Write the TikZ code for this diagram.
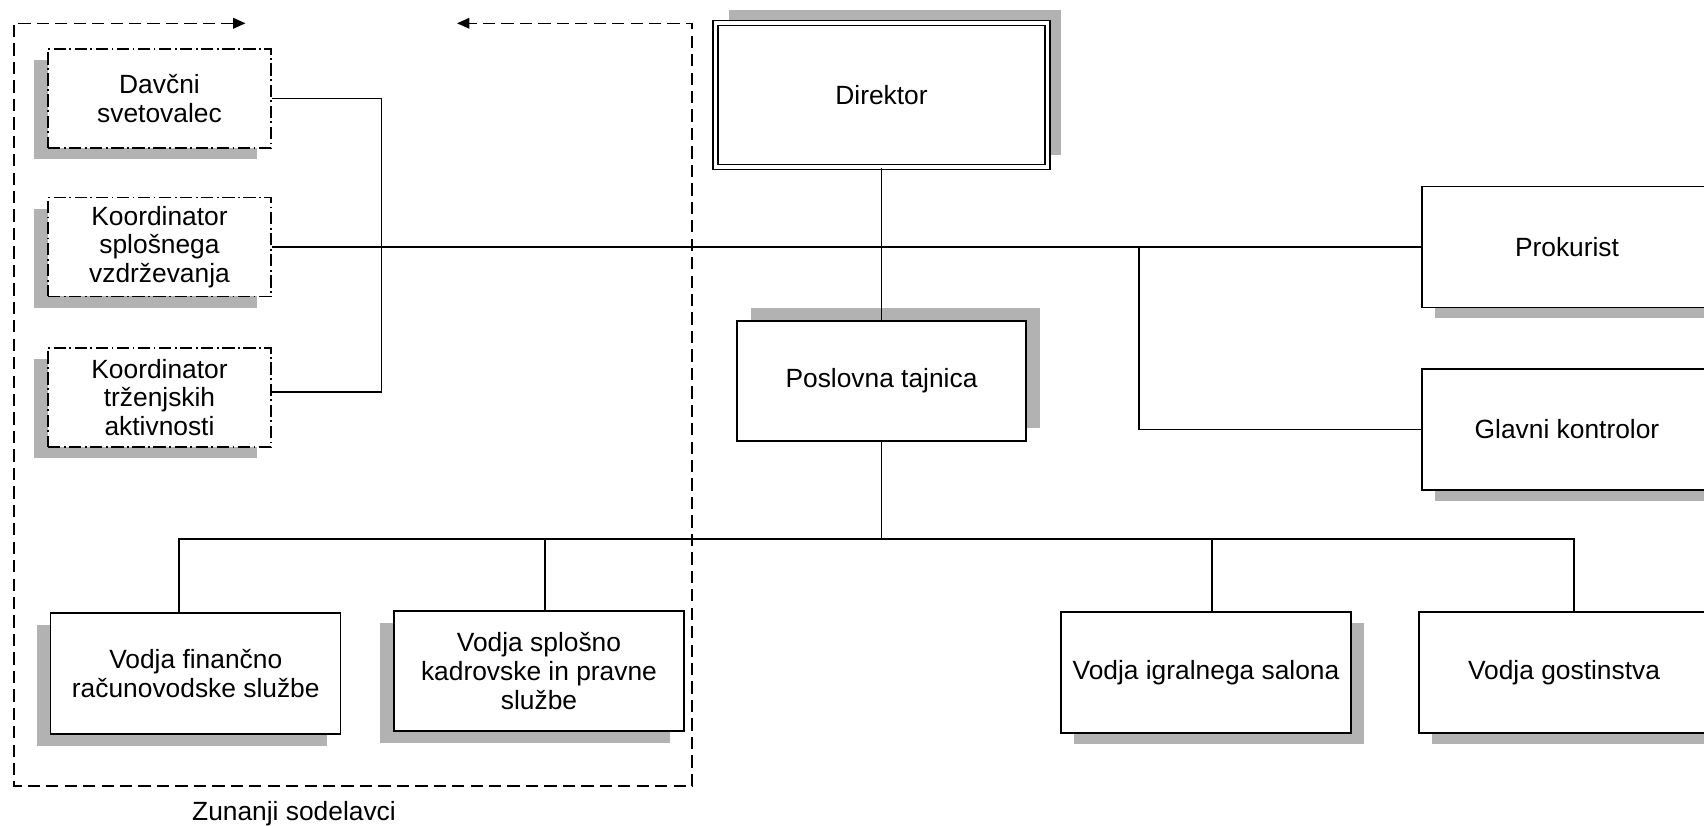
\documentclass[tikz,border=0pt]{standalone}
\usepackage{fontspec}
\setmainfont{Liberation Sans}
\usetikzlibrary{arrows.meta,positioning,shadows}
\definecolor{shgray}{RGB}{178,178,178}

\begin{document}
\begin{tikzpicture}[
    box/.style={draw=black,fill=white,line width=0.8pt,minimum width=5.8cm,
                minimum height=2.42cm,align=center,inner sep=1pt,
                font=\fontsize{15}{16.3}\selectfont},
    ext/.style={box,minimum width=4.46cm,minimum height=1.98cm,
                dash pattern=on 7pt off 2pt on 1pt off 2pt},
    shdl/.style={drop shadow={fill=shgray,opacity=1,shadow xshift=-0.28cm,shadow yshift=-0.23cm}},
    shdr/.style={drop shadow={fill=shgray,opacity=1,shadow xshift=0.26cm,shadow yshift=-0.22cm}},
    shur/.style={drop shadow={fill=shgray,opacity=1,shadow xshift=0.27cm,shadow yshift=0.25cm}},
    link/.style={line width=0.8pt},
    grp/.style={line width=0.8pt,dash pattern=on 7pt off 3.5pt,
                {Triangle[length=7pt,width=6pt]}-{Triangle[length=7pt,width=6pt]}}
  ]
    \clip (0,0) rectangle (34.08,-16.52);

    \node[ext,shdl] (dav) at (3.19,-1.97) {Dav\v{c}ni\\svetovalec};
    \node[ext,shdl] (kvz) at (3.19,-4.94) {Koordinator\\splo\v{s}nega\\vzdr\v{z}evanja};
    \node[ext,shdl] (ktr) at (3.19,-7.95) {Koordinator\\tr\v{z}enjskih\\aktivnosti};

    \node[box,shur,double,double distance=2pt,minimum width=6.64cm,minimum height=2.89cm]
      (dir) at (17.63,-1.90) {Direktor};
    \node[box,shur,minimum width=5.78cm,minimum height=2.4cm] (pos) at (17.63,-7.62) {Poslovna tajnica};
    \node[box,shdr] (pro) at (31.34,-4.94) {Prokurist};
    \node[box,shdr] (glk) at (31.34,-8.59) {Glavni kontrolor};

    \node[box,shdl] (vfr) at (3.915,-13.47) {Vodja finan\v{c}no\\ra\v{c}unovodske slu\v{z}be};
    \node[box,shdl,minimum height=2.4cm] (vsp) at (10.78,-13.42) {Vodja splo\v{s}no\\kadrovske in pravne\\slu\v{z}be};
    \node[box,shdr] (vig) at (24.12,-13.45) {Vodja igralnega salona};
    \node[box,shdr] (vgo) at (31.28,-13.45) {Vodja gostinstva};

    \coordinate (br) at (22.78,-4.94);
    \coordinate (bus) at (17.63,-10.78);
    \coordinate (fnw) at (0.276,-0.466);
    \coordinate (fse) at (13.84,-15.72);

    \draw[link] (dav.east) -- ++(2.2,0) |- ([yshift=0.11cm]ktr.east);
    \draw[link] (kvz.east) -- (kvz.east -| pro.west);
    \draw[link] (br) |- (glk.west);
    \draw[link] (dir.south) -- (pos.north);
    \draw[link] (pos.south) -- (bus);
    \draw[link] ([xshift=-0.335cm]vfr.north) |- (bus) -| ([xshift=0.2cm]vgo.north);
    \draw[link] ([xshift=0.12cm]vsp.north) -- ([xshift=0.12cm]vsp.north |- bus);
    \draw[link] ([xshift=0.12cm]vig.north) -- ([xshift=0.12cm]vig.north |- bus);

    \draw[grp] (4.91,-0.466) -- (fnw) |- (fse) |- (9.14,-0.466);
    \node[font=\fontsize{15}{16}\selectfont] (zs) at (5.88,-16.28) {Zunanji sodelavci};
  \end{tikzpicture}
\end{document}
